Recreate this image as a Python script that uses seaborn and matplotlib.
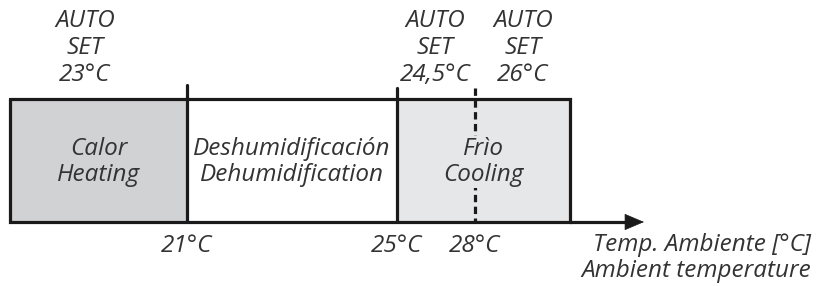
"""Operating zones of the AUTO mode versus ambient temperature."""
import matplotlib
matplotlib.use("Agg")
import matplotlib.pyplot as plt
import seaborn as sns

# zones along the (schematic) temperature axis
zone_labels = ["Calor\nHeating", "Deshumidificación\nDehumidification", "Frìo\nCooling"]
zone_edges = [10, 187, 397, 570]
zone_colors = ["#d1d2d4", "#ffffff", "#e6e7e8"]

# temperature thresholds on the axis
temp_labels = ["21°C", "25°C", "28°C"]
temp_pos = [187, 397, 475]

# AUTO set points shown above the zones
set_labels = ["AUTO\nSET\n23°C", "AUTO\nSET\n24,5°C", "AUTO\nSET\n26°C"]
set_pos = [85, 435, 523]

axis_label = "Temp. Ambiente [°C]\nAmbient temperature"

sns.set_style("white")
plt.rcParams["font.family"] = ["Open Sans", "DejaVu Sans"]

ink = "#1a1a1a"
txt = "#333333"
fs = 17.5

fig = plt.figure(figsize=(8.16, 2.86), dpi=100)
ax = fig.add_axes([0, 0, 1, 1])
ax.set_xlim(0, 816)
ax.set_ylim(286, 0)
ax.axis("off")

top, bottom = 99, 222

# zone fills and names
for i, label in enumerate(zone_labels):
    x0, x1 = zone_edges[i], zone_edges[i + 1]
    ax.fill_between([x0, x1], top, bottom, color=zone_colors[i], lw=0, zorder=1)
    ax.text((x0 + x1) / 2, 162, label, ha="center", va="center", style="italic",
            fontsize=fs, color=txt, linespacing=1.14, zorder=5,
            bbox=dict(facecolor=zone_colors[i], edgecolor="none", pad=0.5))

# outer frame
ax.plot([zone_edges[0], zone_edges[-1], zone_edges[-1], zone_edges[0], zone_edges[0]],
        [top, top, bottom, bottom, top], color=ink, lw=2.3, zorder=3,
        solid_joinstyle="miter")

# dividers (they stick out above the frame)
ax.plot([temp_pos[0]] * 2, [85, bottom], color=ink, lw=2.3, zorder=3)
ax.plot([temp_pos[1]] * 2, [88, bottom], color=ink, lw=2.3, zorder=3)
ax.plot([temp_pos[2]] * 2, [88, bottom], color=ink, lw=2.3, zorder=3,
        linestyle=(0, (2.3, 1.4)))

# temperature axis with arrow
ax.plot([zone_edges[-1], 626], [bottom, bottom], color=ink, lw=2.3, zorder=3)
ax.annotate("", xy=(644, bottom), xytext=(622, bottom),
            arrowprops=dict(arrowstyle="-|>,head_length=1.3,head_width=0.55",
                            color=ink, lw=0.5, shrinkA=0, shrinkB=0), zorder=4)

for label, x in zip(temp_labels, temp_pos):
    ax.text(x, 246, label, ha="center", va="center", style="italic",
            fontsize=fs, color=txt)

ax.text(811, 258, axis_label, ha="right", va="center", style="italic",
        fontsize=fs, color=txt, linespacing=1.12)

for label, x in zip(set_labels, set_pos):
    ax.text(x, 48, label, ha="center", va="center", style="italic",
            fontsize=fs, color=txt, linespacing=1.14)

fig.savefig("out.png", dpi=100)
